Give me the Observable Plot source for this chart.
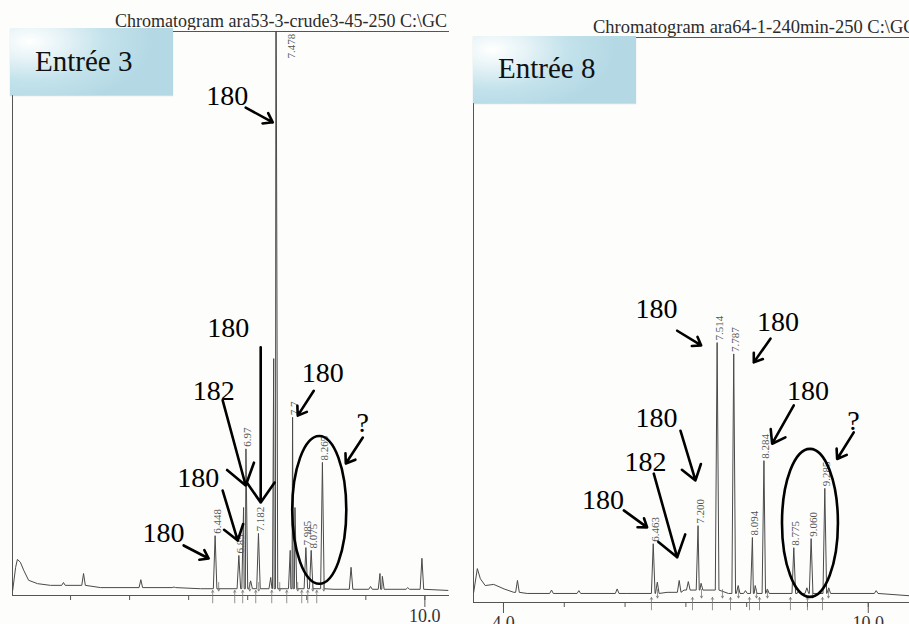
<!DOCTYPE html>
<html>
<head>
<meta charset="utf-8">
<script src="https://cdn.jsdelivr.net/npm/d3@7"></script>
<script src="https://cdn.jsdelivr.net/npm/@observablehq/plot@0.6"></script>
<style>
  html, body { margin: 0; padding: 0; background: #fdfdfc; }
  #page { position: relative; width: 909px; height: 624px; overflow: hidden;
          font-family: "Liberation Serif", "Times New Roman", serif; }
  .panel { position: absolute; top: 0; height: 624px; }
  .title { position: absolute; white-space: nowrap; line-height: 1; color: #2b2b2b; overflow: hidden;
           font-family: "Liberation Serif", "Times New Roman", serif; }
  .box { position: absolute; width: 163px; height: 67px;
         background: radial-gradient(ellipse 75% 95% at 12% 20%, #ffffff 0%, #e4f2f6 30%, #c3e2eb 62%, #b4d9e5 100%);
         box-shadow: 0 1px 1px rgba(120,160,175,0.35); }
  .box span { position: absolute; left: 25px; font-size: 29px; line-height: 1; color: #111; white-space: nowrap;
              font-family: "Liberation Serif", "Times New Roman", serif; }
</style>
</head>
<body>
<div id="page"></div>
<script>
const SERIF = "'Liberation Serif', 'Times New Roman', serif";

// ---------------- Entrée 3 (left chromatogram) ----------------
const leftTitle = "Chromatogram ara53-3-crude3-45-250 C:\\GC";
const leftEntry = "Entrée 3";
const leftDomain = [3.017, 10.417];           // retention time (min)
const leftTicks = [4, 5, 6, 7, 8, 9, 10];
const leftTickLabels = [10];
// baseline (time, signal)
const leftBaseline = [[3.02,0.9],[3.07,5.0],[3.10,6.4],[3.15,5.9],[3.21,4.4],[3.29,2.7],[3.44,2.1],[3.66,1.8],[4.51,1.4],[6.20,1.2],[8.46,1.1],[10.39,0.9]];
// peaks (time, height)
const leftPeaks = [[3.88,2.3],[4.22,3.9],[5.19,2.8],[5.75,1.5],[6.448,10.6],[6.85,7.1],[6.93,15.6],[6.97,26.0],[7.05,2.6],[7.182,11.0],[7.39,3.2],[7.44,42.0],[7.478,120],[7.72,8.0],[7.76,31.6],[7.80,15.6],[7.985,8.5],[8.075,8.0],[8.265,23.6],[8.75,5.0],[9.08,1.6],[9.24,3.9],[9.28,3.4],[9.71,1.4],[9.95,6.6]];
const leftPeakLabels = [[6.448,"6.448"],[6.85,"6.85"],[6.97,"6.97"],[7.182,"7.182"],[7.76,"7.7"],[7.985,"7.985"],[8.075,"8.075"],[8.265,"8.265"]];
const leftOffscale = [[7.478, 95.2, "7.478"]];
const leftNotes = [[6.653,88.5,"180"],[6.669,47.4,"180"],[6.424,36.3,"182"],[6.161,20.9,"180"],[5.576,11.0,"180"],[8.271,39.4,"180"],[8.949,30.5,"?"]];
const leftArrows = [[6.966,86.5,7.424,83.9],[7.220,44.0,7.220,16.5],[6.576,34.6,6.966,19.5],[6.576,18.6,6.831,9.75],[5.915,8.87,6.339,6.56],[8.119,36.3,7.847,31.9],[8.949,28.0,8.661,23.4]];
const leftEllipse = [8.22, 15.1, 0.458, 13.1];
const leftUps = [6.407,6.780,6.915,7.136,7.407,7.661,7.915,8.017,8.169];
const leftDowns = [6.508,7.034,7.186,7.542,7.847,8.102,8.288];

// ---------------- Entrée 8 (right chromatogram) ----------------
const rightTitle = "Chromatogram ara64-1-240min-250 C:\\GC";
const rightEntry = "Entrée 8";
const rightDomain = [3.507, 10.678];
const rightTicks = [4, 5, 6, 7, 8, 9, 10];
const rightTickLabels = [4, 10];
const rightBaseline = [[3.51,1.8],[3.57,6.0],[3.62,4.2],[3.70,3.0],[3.84,3.2],[4.01,2.4],[4.17,1.8],[4.39,1.6],[6.03,1.6],[6.69,1.8],[6.97,2.2],[7.70,1.6],[10.67,1.2]];
const rightPeaks = [[4.23,3.9],[4.79,2.2],[5.24,2.1],[5.87,2.4],[6.463,10.4],[6.53,3.6],[6.89,3.9],[7.04,3.7],[7.200,13.6],[7.25,3.4],[7.514,46.0],[7.787,44.0],[7.86,3.0],[7.98,2.1],[8.094,11.5],[8.14,3.0],[8.284,25.1],[8.34,2.4],[8.775,9.7],[8.86,2.2],[8.99,2.6],[9.060,11.3],[9.285,20.2],[9.35,2.6],[10.13,2.1]];
const rightPeakLabels = [[6.463,"6.463"],[7.200,"7.200"],[7.514,"7.514"],[7.787,"7.787"],[8.094,"8.094"],[8.284,"8.284"],[8.775,"8.775"],[9.060,"9.060"],[9.285,"9.285"]];
const rightOffscale = [];
const rightNotes = [[6.516,51.9,"180"],[8.515,49.6,"180"],[9.008,37.5,"180"],[6.516,32.7,"180"],[6.336,24.8,"182"],[5.637,18.1,"180"],[9.757,32.2,"?"]];
const rightArrows = [[6.857,48.1,7.252,45.5],[8.391,46.7,8.117,42.5],[8.775,34.9,8.419,28.1],[6.911,30.4,7.158,21.6],[6.472,22.8,6.857,8.0],[5.979,16.3,6.363,13.3],[9.761,30.1,9.488,25.4]];
const rightEllipse = [9.049, 14.0, 0.46, 13.1];
const rightUps = [6.434,7.109,7.437,7.734,8.046,8.211,8.720,9.000,9.247];
const rightDowns = [6.533,7.257,7.602,7.865,8.161,8.342,9.082,9.345];

const HALF_WIDTH = 0.03;

function buildTrace(baseline, peaks) {
  const footAt = t => { let f = baseline[0][1]; for (const [bt, bv] of baseline) if (bt <= t) f = bv; return f; };
  const inPeak = t => peaks.some(([pt]) => Math.abs(t - pt) < HALF_WIDTH);
  const pts = [];
  for (const [t, v] of baseline) if (!inPeak(t)) pts.push({t, v});
  for (const [pt, h] of peaks) {
    const f = footAt(pt);
    pts.push({t: pt - HALF_WIDTH, v: f}, {t: pt, v: h}, {t: pt + HALF_WIDTH, v: f});
  }
  return pts.sort((a, b) => a.t - b.t);
}

function ellipseMark(e) {
  return (index, scales) => {
    const ns = "http://www.w3.org/2000/svg";
    const g = document.createElementNS(ns, "g");
    const el = document.createElementNS(ns, "ellipse");
    const cx = scales.x(e[0]), cy = scales.y(e[1]);
    el.setAttribute("cx", cx);
    el.setAttribute("cy", cy);
    el.setAttribute("rx", Math.abs(scales.x(e[0] + e[2]) - cx));
    el.setAttribute("ry", Math.abs(scales.y(e[1] + e[3]) - cy));
    el.setAttribute("fill", "none");
    el.setAttribute("stroke", "#000");
    el.setAttribute("stroke-width", 2.6);
    g.appendChild(el);
    return g;
  };
}

function chart(cfg) {
  const trace = buildTrace(cfg.baseline, cfg.peaks);
  const heightOf = t => (cfg.peaks.find(p => p[0] === t) || [t, 0])[1];
  return Plot.plot({
    width: cfg.width, height: 624,
    marginLeft: cfg.marginLeft, marginRight: cfg.marginRight,
    marginTop: cfg.marginTop, marginBottom: cfg.marginBottom,
    x: {domain: cfg.domain, label: null},
    y: {domain: [0, 100], axis: null, label: null},
    style: {background: "transparent", fontFamily: SERIF, overflow: "visible"},
    marks: [
      Plot.ruleY([0], {stroke: "#555", strokeWidth: 1}),
      Plot.ruleY([100], {stroke: "#555", strokeWidth: 1}),
      Plot.ruleX([cfg.domain[0]], {stroke: "#555", strokeWidth: 1}),
      Plot.axisX(cfg.ticks, {tickSize: 5, tickFormat: () => "", label: null, stroke: "#555"}),
      Plot.axisX(cfg.tickLabels, {tickSize: cfg.bigTick, tickPadding: cfg.tickPad, tickFormat: d => d.toFixed(1),
        label: null, fontSize: 18, fontFamily: SERIF, fill: "#333", stroke: "#555"}),
      Plot.line(trace, {x: "t", y: "v", stroke: "#4a4a4a", strokeWidth: 1, clip: true}),
      Plot.arrow(cfg.ups, {x1: d => d, x2: d => d, y1: () => -1.3, y2: () => 0.9, stroke: "#777", strokeWidth: 0.8, headLength: 4}),
      Plot.arrow(cfg.downs, {x1: d => d, x2: d => d, y1: () => 2.3, y2: () => 0.8, stroke: "#777", strokeWidth: 0.8, headLength: 4}),
      Plot.text(cfg.peakLabels, {x: d => d[0], y: d => Math.min(heightOf(d[0]), 100), text: d => d[1],
        rotate: -90, textAnchor: "start", lineAnchor: "middle", dx: 2, dy: -2, fontSize: 11, fontFamily: SERIF, fill: "#555"}),
      Plot.text(cfg.offscale, {x: d => d[0], y: d => d[1], text: d => d[2],
        rotate: -90, textAnchor: "start", lineAnchor: "middle", dx: 16, fontSize: 11, fontFamily: SERIF, fill: "#555"}),
      ellipseMark(cfg.ellipse),
      Plot.arrow(cfg.arrows, {x1: d => d[0], y1: d => d[1], x2: d => d[2], y2: d => d[3],
        stroke: "#000", strokeWidth: 2.6, headLength: 14, headAngle: 70}),
      Plot.text(cfg.notes, {x: d => d[0], y: d => d[1], text: d => d[2], fontSize: 28, fontFamily: SERIF, fill: "#000"})
    ]
  });
}

const page = document.getElementById("page");

function addPanel(left, width, svg, title, titleCss, entry, boxCss, textTop) {
  const p = document.createElement("div");
  p.className = "panel";
  p.style.left = left + "px";
  p.style.width = width + "px";
  p.appendChild(svg);
  svg.style.position = "absolute";
  svg.style.left = "0px";
  svg.style.top = "0px";
  page.appendChild(p);
  const t = document.createElement("div");
  t.className = "title";
  t.textContent = title;
  Object.assign(t.style, titleCss);
  page.appendChild(t);
  const b = document.createElement("div");
  b.className = "box";
  Object.assign(b.style, boxCss);
  const s = document.createElement("span");
  s.textContent = entry;
  s.style.top = textTop + "px";
  b.appendChild(s);
  page.appendChild(b);
}

const leftSvg = chart({
  width: 455, marginLeft: 12, marginRight: 6, marginTop: 31, marginBottom: 29,
  domain: leftDomain, ticks: leftTicks, tickLabels: leftTickLabels, bigTick: 12, tickPad: 2,
  baseline: leftBaseline, peaks: leftPeaks, peakLabels: leftPeakLabels, offscale: leftOffscale,
  notes: leftNotes, arrows: leftArrows, ellipse: leftEllipse, ups: leftUps, downs: leftDowns
});
const rightSvg = chart({
  width: 454, marginLeft: 18, marginRight: 0, marginTop: 37, marginBottom: 22,
  domain: rightDomain, ticks: rightTicks, tickLabels: rightTickLabels, bigTick: 11, tickPad: 3,
  baseline: rightBaseline, peaks: rightPeaks, peakLabels: rightPeakLabels, offscale: rightOffscale,
  notes: rightNotes, arrows: rightArrows, ellipse: rightEllipse, ups: rightUps, downs: rightDowns
});

addPanel(0, 455, leftSvg, leftTitle,
  {left: "115px", top: "12px", fontSize: "18px", width: "334px"},
  leftEntry, {left: "10px", top: "28px"}, 19);
addPanel(455, 454, rightSvg, rightTitle,
  {left: "593px", top: "18px", fontSize: "18.5px", width: "316px"},
  rightEntry, {left: "473px", top: "36px"}, 18);
</script>
</body>
</html>
